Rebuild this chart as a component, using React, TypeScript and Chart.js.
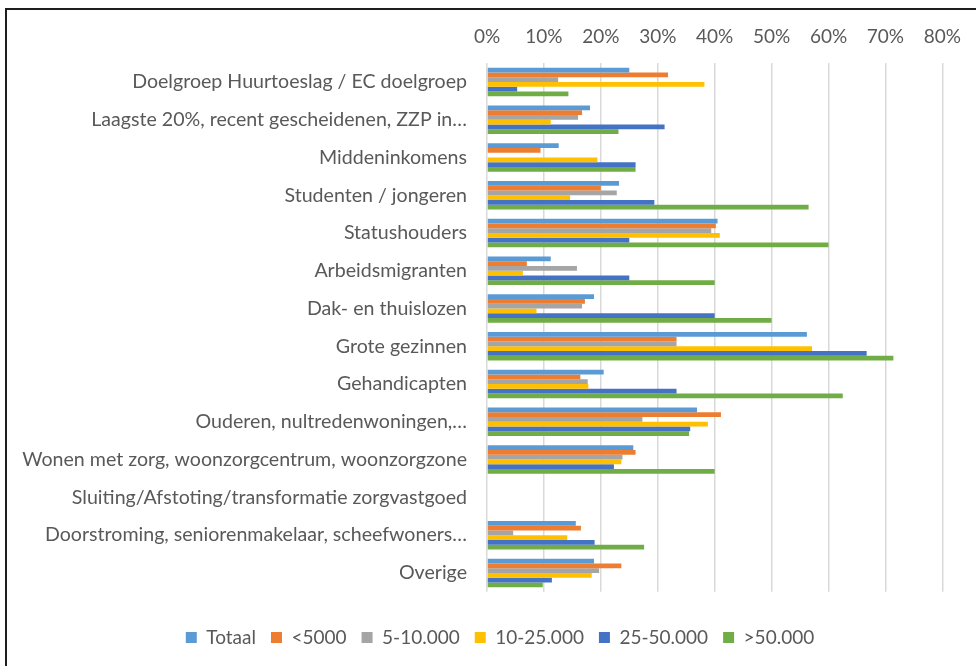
import React, { useEffect, useRef } from "react";
import { Chart, registerables } from "chart.js";

Chart.register(...registerables);

const categories: string[] = [
  "Doelgroep Huurtoeslag / EC doelgroep",
  "Laagste 20%, recent gescheidenen, ZZP in…",
  "Middeninkomens",
  "Studenten / jongeren",
  "Statushouders",
  "Arbeidsmigranten",
  "Dak- en thuislozen",
  "Grote gezinnen",
  "Gehandicapten",
  "Ouderen, nultredenwoningen,…",
  "Wonen met zorg, woonzorgcentrum, woonzorgzone",
  "Sluiting/Afstoting/transformatie zorgvastgoed",
  "Doorstroming, seniorenmakelaar, scheefwoners…",
  "Overige",
];

const seriesNames: string[] = ["Totaal", "<5000", "5-10.000", "10-25.000", "25-50.000", ">50.000"];

const totaal: number[] = [25.0, 18.1, 12.6, 23.2, 40.5, 11.2, 18.8, 56.2, 20.5, 36.9, 25.7, 0, 15.6, 18.8];
const onder5000: number[] = [31.8, 16.7, 9.4, 20.0, 40.2, 7.0, 17.2, 33.3, 16.4, 41.1, 26.1, 0, 16.5, 23.6];
const van5tot10: number[] = [12.5, 16.0, 0, 22.8, 39.4, 15.8, 16.7, 33.3, 17.7, 27.3, 23.8, 0, 4.6, 19.7];
const van10tot25: number[] = [38.2, 11.2, 19.4, 14.6, 40.9, 6.3, 8.7, 57.1, 17.8, 38.8, 23.6, 0, 14.1, 18.4];
const van25tot50: number[] = [5.3, 31.2, 26.1, 29.4, 25.0, 25.0, 40.0, 66.7, 33.3, 35.7, 22.3, 0, 18.9, 11.4];
const boven50: number[] = [14.3, 23.1, 26.1, 56.5, 60.0, 40.0, 50.0, 71.4, 62.5, 35.5, 40.0, 0, 27.6, 9.8];

const xTicks: number[] = [0, 10, 20, 30, 40, 50, 60, 70, 80];

const seriesValues: number[][] = [totaal, onder5000, van5tot10, van10tot25, van25tot50, boven50];
const seriesColors: string[] = ["#5B9BD5", "#ED7D31", "#A5A5A5", "#FFC000", "#4472C4", "#70AD47"];

const FONT = "Lato";
const TEXT = "#595959";

export default function App() {
  const canvasRef = useRef<HTMLCanvasElement | null>(null);

  useEffect(() => {
    if (!canvasRef.current) return;
    const chart = new Chart(canvasRef.current, {
      type: "bar",
      data: {
        labels: categories,
        datasets: seriesNames.map((name, i) => ({
          label: name,
          data: seriesValues[i],
          backgroundColor: seriesColors[i],
          borderWidth: 0,
          barPercentage: 1,
          categoryPercentage: 0.755,
        })),
      },
      options: {
        indexAxis: "y",
        animation: false,
        responsive: false,
        maintainAspectRatio: false,
        layout: { padding: { left: 0, right: 33, top: 0, bottom: 9 } },
        scales: {
          x: {
            position: "top",
            min: 0,
            max: 80,
            afterBuildTicks: (scale: any) => {
              scale.ticks = xTicks.map((v) => ({ value: v }));
            },
            afterFit: (scale: any) => {
              scale.height = 63;
            },
            ticks: {
              color: TEXT,
              font: { family: FONT, size: 19 },
              padding: 15,
              callback: (v: any) => v + "%",
            },
            grid: { color: "#D9D9D9", lineWidth: 1.5, drawTicks: false },
            border: { display: false },
          },
          y: {
            afterFit: (scale: any) => {
              scale.width = 487;
            },
            ticks: {
              color: TEXT,
              font: { family: FONT, size: 19.6 },
              padding: 20,
              autoSkip: false,
            },
            grid: { display: false, drawTicks: false },
            border: { display: false },
          },
        },
        plugins: {
          legend: {
            position: "bottom",
            align: "center",
            title: { display: true, text: "", padding: { top: 20, bottom: 0 }, font: { size: 1 } },
            labels: {
              color: TEXT,
              font: { family: FONT, size: 19 },
              boxWidth: 11,
              boxHeight: 11,
              padding: 15,
            },
          },
          tooltip: { enabled: false },
        },
      },
      plugins: [
        {
          id: "shiftLegend",
          afterLayout(c: any) {
            if (c.legend) {
              c.legend.left = 57;
            }
          },
        },
      ],
    });
    return () => chart.destroy();
  }, []);

  return (
    <div style={{ position: "absolute", left: 0, top: 0, width: 976, height: 666, overflow: "hidden", background: "#fff" }}>
      <div
        style={{
          position: "absolute",
          left: 5,
          top: 8,
          width: 1100,
          height: 800,
          borderTop: "2px solid #1e1e1e",
          borderLeft: "2px solid #1e1e1e",
        }}
      />
      <canvas ref={canvasRef} width={976} height={666} style={{ position: "absolute", left: 0, top: 0 }} />
    </div>
  );
}
